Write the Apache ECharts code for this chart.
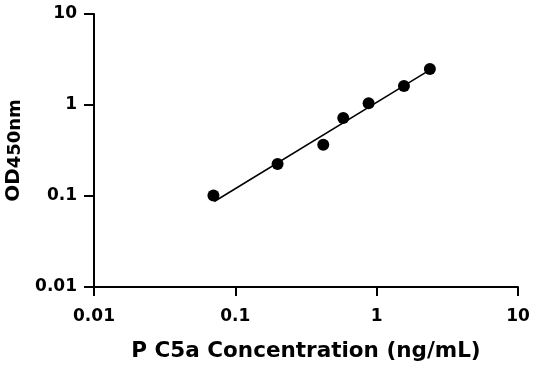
<!DOCTYPE html>
<html><head><meta charset="utf-8">
<script src="https://cdn.jsdelivr.net/npm/echarts@6/dist/echarts.min.js"></script>
<style>html,body{margin:0;padding:0;background:#fff}#c{width:536px;height:371px}</style>
</head><body><div id="c"></div>
<script>
const concX = [0.07, 0.199, 0.419, 0.58, 0.877, 1.56, 2.38];
const odY = [0.101, 0.225, 0.365, 0.721, 1.047, 1.62, 2.49];
const fitX = [0.071, 2.38];
const fitY = [0.087, 2.43];
const xTicks = [0.01, 0.1, 1, 10];
const yTicks = [0.01, 0.1, 1, 10];

const fontFam = '"DejaVu Sans", sans-serif';
const chart = echarts.init(document.getElementById('c'), null, {renderer: 'canvas'});
const fmt = v => { const r = Math.round(Math.log10(v)); const p = Math.pow(10, r); return p >= 1 ? String(p) : p.toFixed(-r); };
const axisCommon = {
  type: 'log', logBase: 10, min: 0.01, max: 10,
  splitLine: {show: false},
  minorTick: {show: false},
  axisLine: {show: true, onZero: false, lineStyle: {color: '#000', width: 2}},
  axisTick: {show: true, length: 9, lineStyle: {color: '#000', width: 2}},
  axisLabel: {color: '#000', fontSize: 17, fontWeight: 'bold', fontFamily: fontFam, formatter: fmt}
};
chart.setOption({
  animation: false,
  grid: {left: 94, right: 18, top: 14, bottom: 84, containLabel: false, outerBoundsMode: 'none'},
  xAxis: Object.assign({}, axisCommon, {
    name: 'P C5a Concentration (ng/mL)', nameLocation: 'middle', nameGap: 53,
    nameTextStyle: {color: '#000', fontSize: 21.5, fontWeight: 'bold', fontFamily: fontFam},
    axisLabel: Object.assign({}, axisCommon.axisLabel, {margin: 21})
  }),
  yAxis: Object.assign({}, axisCommon, {
    name: '{a|OD}{b|450nm}', nameLocation: 'middle', nameGap: 70, nameRotate: 90,
    nameTextStyle: {color: '#000', fontFamily: fontFam,
      rich: {a: {fontSize: 20, fontWeight: 'bold', color: '#000', fontFamily: fontFam, verticalAlign: 'bottom'},
             b: {fontSize: 18, fontWeight: 'bold', color: '#000', fontFamily: fontFam, verticalAlign: 'bottom', padding: [3, 0, 0, 0]}}},
    axisTick: {show: true, length: 10, lineStyle: {color: '#000', width: 2}},
    axisLabel: Object.assign({}, axisCommon.axisLabel, {margin: 17})
  }),
  series: [
    {type: 'line', data: fitX.map((x, i) => [x, fitY[i]]), symbol: 'none',
     lineStyle: {color: '#000', width: 1.5}, z: 1},
    {type: 'scatter', data: concX.map((x, i) => [x, odY[i]]), symbol: 'circle', symbolSize: 12,
     itemStyle: {color: '#000', opacity: 1}, z: 2}
  ]
});
</script></body></html>
